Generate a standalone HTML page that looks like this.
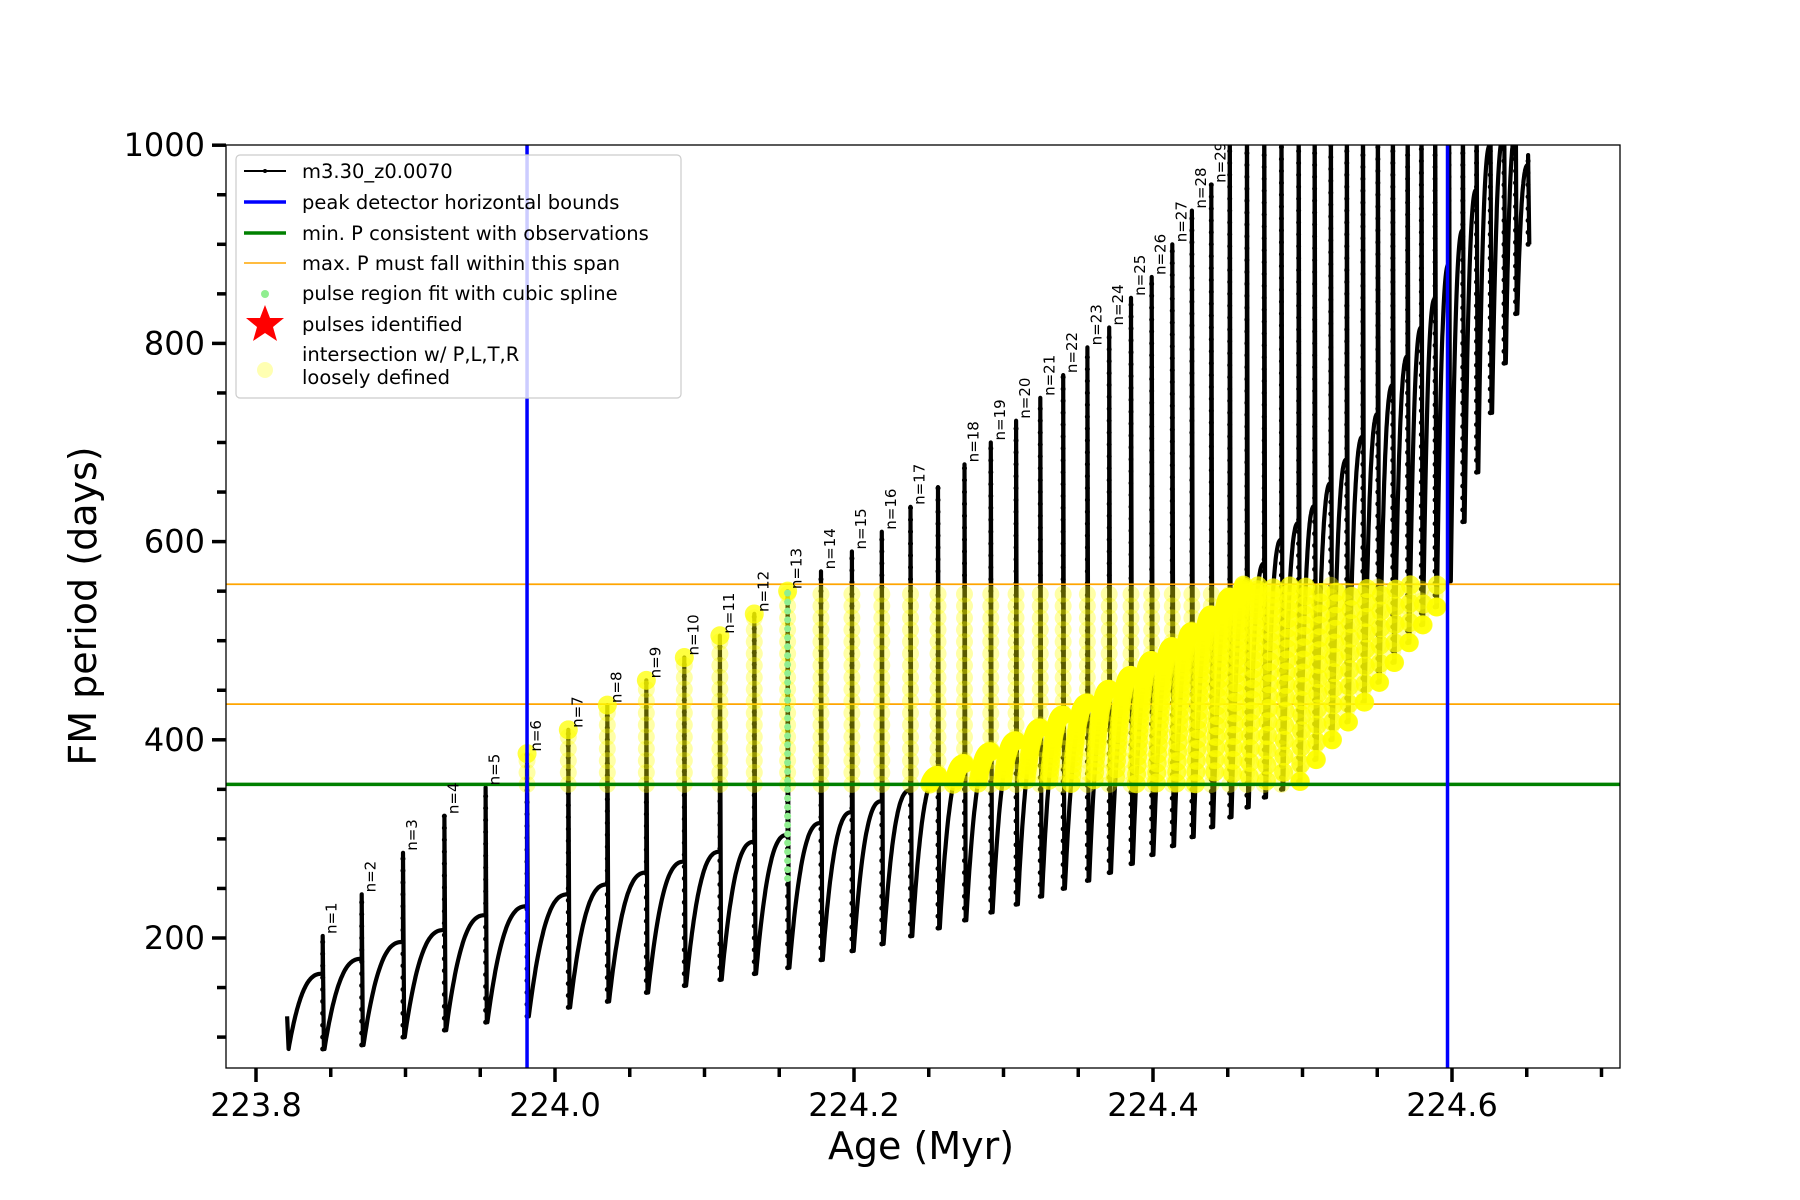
<!DOCTYPE html>
<html><head><meta charset="utf-8">
<style>
html,body{margin:0;padding:0;background:#fff;}
svg{display:block;font-family:"DejaVu Sans","Liberation Sans",sans-serif;}
</style></head>
<body>
<svg id="chart" width="1800" height="1200" viewBox="0 0 1800 1200" xmlns="http://www.w3.org/2000/svg">
<defs><clipPath id="plotclip"><rect x="226" y="145" width="1394" height="923"/></clipPath></defs>
<rect x="0" y="0" width="1800" height="1200" fill="#fff"/>
<g id="plot" clip-path="url(#plotclip)"></g>
<g id="axes"></g>
</svg>
<script>
// ---- data ----
const pulseAge = [223.8446,223.8707,223.8983,223.9260,223.9536,223.9813,224.0089,224.0350,224.0611,224.0865,224.1103,224.1333,224.1556,224.1779,224.1986,224.2186,224.2378,224.2562,224.2739,224.2915,224.3084,224.3246,224.3399,224.3561,224.3707,224.3853,224.3991,224.4129,224.4260,224.4390,224.4513,224.4628,224.4744,224.4859,224.4974,224.5081,224.5189,224.5296,224.5404,224.5504,224.5604,224.5703,224.5795,224.5887,224.5980,224.6072,224.6164,224.6256,224.6348,224.6425,224.6509];
const pulsePeak = [202,244,286,323,352,386,410,435,460,483,505,527,550,570,590,610,635,655,678,700,722,745,768,796,816,846,867,900,934,960,1100,1100,1100,1100,1100,1100,1100,1100,1100,1100,1100,1100,1100,1100,1100,1100,1100,1100,1100,1100,990];
const baseline = [164,179,196,208,223,232,244,254,266,277,287,297,304,316,327,338,349,364,376,388,399,412,425,437,451,465,480,494,509,526,544,561,578,602,619,636,659,683,706,729,758,787,816,845,880,914,955,1000,1010,1010,980];
const trough = [88,92,100,107,115,121,130,136,145,152,158,164,170,178,187,194,202,210,218,226,234,242,250,258,266,275,284,293,302,312,322,332,342,350,358,380,400,418,438,458,478,498,516,534,560,620,670,730,780,830,900];
const pulseLabel = ["n=1","n=2","n=3","n=4","n=5","n=6","n=7","n=8","n=9","n=10","n=11","n=12","n=13","n=14","n=15","n=16","n=17","","n=18","n=19","n=20","n=21","n=22","n=23","n=24","n=25","n=26","n=27","n=28","n=29"];
const startAge = 223.8208, startVal = 121, startTrough = 88;
const blueBounds = [223.9813, 224.597];
const minP = 355;
const maxPSpan = [436, 557];
const greenPulseIndex = 12;
const greenRange = [260, 550];
const xTickMajor = [223.8,224.0,224.2,224.4,224.6];
const xTickLabels = ["223.8","224.0","224.2","224.4","224.6"];
const yTickMajor = [200,400,600,800,1000];
const yTickLabels = ["200","400","600","800","1000"];

// ---- axes functions ----
const X = a => 256 + (a - 223.8) * 1495;
const Y = v => 938 - (v - 200) * 0.991;
const NS = "http://www.w3.org/2000/svg";
const plot = document.getElementById('plot');
const axes = document.getElementById('axes');
function mk(tag, attrs, parent){const e=document.createElementNS(NS,tag);for(const k in attrs)e.setAttribute(k,attrs[k]);parent.appendChild(e);return e;}

const pts = [];
const vertical = [];
function riseSeg(a0,a1,t,b){
  const n=40;
  for(let i=0;i<=n;i++){const u=i/n;const s=1-Math.pow(1-u,2.6);pts.push([a0+(a1-a0)*u, t+(b-t)*s]);}
}
pts.push([startAge,startVal]);
riseSeg(startAge+0.001,pulseAge[0],startTrough,baseline[0]);
for(let k=0;k<pulseAge.length;k++){
  const a=pulseAge[k];
  vertical.push([a,trough[k],pulsePeak[k]]);
  pts.push([a,pulsePeak[k]]);
  pts.push([a+0.0008,trough[k]]);
  if(k<pulseAge.length-1) riseSeg(a+0.0012,pulseAge[k+1],trough[k],baseline[k+1]);
}
const d = pts.map((p,i)=>(i?'L':'M')+X(p[0]).toFixed(1)+','+Y(p[1]).toFixed(1)).join('');
const curve = mk('path',{d:d,fill:'none',stroke:'#000','stroke-width':4.2,'stroke-linejoin':'round'},plot);


vertical.forEach(v=>{
  for(let val=v[1]; val<=Math.min(v[2],1010); val+=12){
    mk('circle',{cx:X(v[0]),cy:Y(val),r:2.5,fill:'#000'},plot);
  }
});
const orange1 = mk('line',{x1:226,x2:1620,y1:Y(maxPSpan[0]),y2:Y(maxPSpan[0]),stroke:'orange','stroke-width':1.8},plot);


const orange2 = mk('line',{x1:226,x2:1620,y1:Y(maxPSpan[1]),y2:Y(maxPSpan[1]),stroke:'orange','stroke-width':1.8},plot);


const yg = mk('g',{},plot);


pts.forEach(p=>{
  if(p[0]>=blueBounds[0]-0.001 && p[0]<=blueBounds[1]+0.001 && p[1]>=minP && p[1]<=maxPSpan[1]){
    mk('circle',{cx:X(p[0]),cy:Y(p[1]),r:9.5,fill:'#ffff00','fill-opacity':0.75},yg);
  }
});
vertical.forEach(v=>{
  if(v[0]<blueBounds[0]-0.001||v[0]>blueBounds[1]+0.001) return;
  const lo=Math.max(v[1],minP), hi=Math.min(v[2],maxPSpan[1]);
  for(let val=lo; val<=hi; val+=12){
    mk('circle',{cx:X(v[0]),cy:Y(val),r:8.5,fill:'#ffff00','fill-opacity':0.35},yg);
  }
});
for(let val=greenRange[0]; val<=greenRange[1]; val+=9){
  mk('circle',{cx:X(pulseAge[greenPulseIndex]),cy:Y(val),r:3.5,fill:'#90ee90'},plot);
}
const gl = mk('line',{x1:226,x2:1620,y1:Y(minP),y2:Y(minP),stroke:'green','stroke-width':3.5},plot);


blueBounds.forEach((b,i)=>{
  const l=mk('line',{x1:X(b),x2:X(b),y1:145,y2:1068,stroke:'#0000ff','stroke-width':3.5},plot);
  
  
});
pulseLabel.forEach((t,k)=>{
  if(!t) return;
  const x=X(pulseAge[k])+14, y=Y(pulsePeak[k])-2;
  const tx=mk('text',{x:x,y:y,transform:`rotate(-90 ${x} ${y})`,'font-size':15,fill:'#000'},plot);
  tx.textContent=t;
  
  
});
const frame = mk('rect',{x:226,y:145,width:1394,height:923,fill:'none',stroke:'#000','stroke-width':1.3},axes);


for(let a=223.8;a<=224.7001;a+=0.05){
  const major = xTickMajor.some(m=>Math.abs(m-a)<1e-6);
  mk('line',{x1:X(a),x2:X(a),y1:1068,y2:1068+(major?14:9),stroke:'#000','stroke-width':3.5},axes);
}
xTickMajor.forEach((a,i)=>{
  const t=mk('text',{x:X(a),y:1116,'text-anchor':'middle','font-size':32},axes);
  t.textContent=xTickLabels[i];
  
  
});
for(let v=100;v<=1000;v+=50){
  const major = yTickMajor.includes(v);
  mk('line',{x1:226,x2:226-(major?14:9),y1:Y(v),y2:Y(v),stroke:'#000','stroke-width':3.5},axes);
}
yTickMajor.forEach((v,i)=>{
  const t=mk('text',{x:205,y:Y(v)+11,'text-anchor':'end','font-size':32},axes);
  t.textContent=yTickLabels[i];
  
  
});
</script>
<svg style="position:absolute;left:0;top:0" width="1800" height="1200" xmlns="http://www.w3.org/2000/svg" font-family="DejaVu Sans, Liberation Sans, sans-serif">
<text x="921" y="1159" text-anchor="middle" font-size="38">Age (Myr)</text>
<text x="96" y="606" text-anchor="middle" font-size="38" transform="rotate(-90 96 606)">FM period (days)</text>
<g>
<rect x="236" y="155" width="445" height="243" rx="4" fill="#fff" fill-opacity="0.8" stroke="#ccc" stroke-width="1.2"/>
<g><line x1="244" x2="286" y1="171" y2="171" stroke="#000" stroke-width="2"/><circle cx="265" cy="171" r="2" fill="#000"/><text x="302" y="178" font-size="19.5">m3.30_z0.0070</text></g>
<g><line x1="244" x2="286" y1="202" y2="202" stroke="#0000ff" stroke-width="3.5"/><text x="302" y="209" font-size="19.5">peak detector horizontal bounds</text></g>
<g><line x1="244" x2="286" y1="233" y2="233" stroke="green" stroke-width="3.5"/><text x="302" y="240" font-size="19.5">min. P consistent with observations</text></g>
<g><line x1="244" x2="286" y1="263" y2="263" stroke="orange" stroke-width="1.5"/><text x="302" y="270" font-size="19.5">max. P must fall within this span</text></g>
<g><circle cx="265" cy="294" r="4" fill="#90ee90"/><text x="302" y="300" font-size="19.5">pulse region fit with cubic spline</text></g>
<g><polygon points="265,305 270,318 284,318 273,327 277,341 265,333 253,341 257,327 246,318 260,318" fill="#ff0000"/><text x="302" y="331" font-size="19.5">pulses identified</text></g>
<g><circle cx="265" cy="370" r="8" fill="#ffff00" fill-opacity="0.3"/><text x="302" y="361" font-size="19.5">intersection w/ P,L,T,R</text><text x="302" y="384" font-size="19.5">loosely defined</text></g>
</g>
</svg>
</body></html>
